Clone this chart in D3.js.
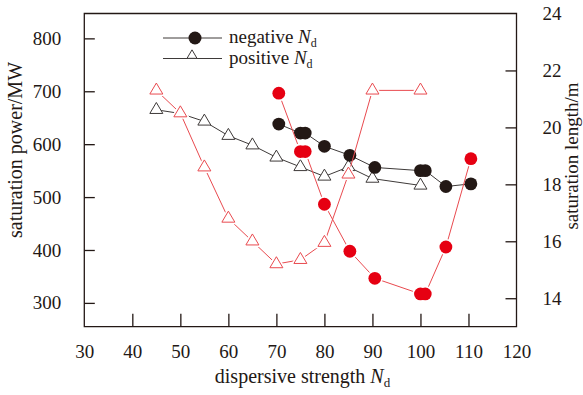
<!DOCTYPE html>
<html>
<head>
<meta charset="utf-8">
<script src="https://cdn.jsdelivr.net/npm/d3@7"></script>
<style>
  body { margin: 0; background: #fff; }
  svg text { font-family: "Liberation Serif", "DejaVu Serif", serif; }
</style>
</head>
<body>
<div id="chart"></div>
<script>
// data
const posNd     = [45, 50, 55, 60, 65, 70, 75, 80, 85, 90, 100];
const posPower  = [665, 658, 643, 616, 598, 575, 557, 539, 557, 535, 522];
const posLength = [21.3, 20.5, 18.6, 16.8, 16.0, 15.2, 15.35, 15.95, 18.35, 21.3, 21.3];

const negNd     = [70.5, 75, 76, 80, 85.3, 90.5, 100, 101, 105.3, 110.5];
const negPower  = [638, 621, 621, 596, 579, 556, 550, 550, 520, 525];
const negLength = [21.2, 19.15, 19.15, 17.3, 15.65, 14.7, 14.15, 14.15, 15.8, 18.9];

const xTicks = [30, 40, 50, 60, 70, 80, 90, 100, 110, 120];
const leftTicks = [300, 400, 500, 600, 700, 800];
const rightTicks = [14, 16, 18, 20, 22, 24];

var W = 583, H = 395;
var margin = {top: 13.5, right: 66.5, bottom: 68.3, left: 84.3};
var width = W - margin.left - margin.right,
    height = H - margin.top - margin.bottom;

var svg = d3.select("#chart").append("svg")
    .attr("width", W).attr("height", H)
  .append("g")
    .attr("transform", "translate(" + margin.left + "," + margin.top + ")");

var x = d3.scaleLinear().domain([30, 120]).range([0, width]);
var yL = d3.scaleLinear().domain([255, 847]).range([height, 0]);
var yR = d3.scaleLinear().domain([13, 24]).range([height, 0]);

// frame
svg.append("path")
  .attr("d", "M0,0H" + width + "V" + height + "H0Z")
  .attr("fill", "none").attr("stroke", "#231815").attr("stroke-width", 1.3);

// axes (ticks point inward)
var gx = svg.append("g")
  .attr("transform", "translate(0," + height + ")")
  .call(d3.axisBottom(x).tickValues(xTicks).tickSizeInner(-13).tickSizeOuter(0).tickPadding(18));
var gl = svg.append("g")
  .call(d3.axisLeft(yL).tickValues(leftTicks).tickSizeInner(-10.5).tickSizeOuter(0).tickPadding(23));
var gr = svg.append("g")
  .attr("transform", "translate(" + width + ",0)")
  .call(d3.axisRight(yR).tickValues(rightTicks).tickSizeInner(-11).tickSizeOuter(0).tickPadding(26));

[gx, gl, gr].forEach(function(g) {
  g.attr("font-family", null).attr("font-size", null);
  g.select(".domain").remove();
  g.selectAll(".tick line").attr("stroke", "#231815").attr("stroke-width", 1.3);
  g.selectAll(".tick text").attr("font-size", 19).attr("fill", "#231815");
});
gx.selectAll(".tick").filter(function(d) { return d == 30 || d == 120; }).select("line").remove();
gr.selectAll(".tick").filter(function(d) { return d == 24; }).select("line").remove();

// axis titles
var xt = svg.append("text")
  .attr("x", 302.5 - margin.left).attr("y", 383 - margin.top)
  .attr("text-anchor", "middle").attr("font-size", 20).attr("fill", "#231815");
xt.append("tspan").text("dispersive strength ");
xt.append("tspan").attr("font-style", "italic").text("N");
xt.append("tspan").attr("font-size", 13).attr("dy", 4).text("d");

svg.append("text")
  .attr("transform", "translate(" + (22 - margin.left) + "," + (150 - margin.top) + ")rotate(-90)")
  .attr("text-anchor", "middle").attr("font-size", 20).attr("fill", "#231815")
  .text("saturation power/MW");

svg.append("text")
  .attr("transform", "translate(" + (578 - margin.left) + "," + (156 - margin.top) + ")rotate(-90)")
  .attr("text-anchor", "middle").attr("font-size", 19).attr("fill", "#231815")
  .text("saturation length/m");

function tri(w, h) {
  return "M0," + (-h * 2 / 3) + "L" + (w / 2) + "," + (h / 3) + "L" + (-w / 2) + "," + (h / 3) + "Z";
}

var posP = posNd.map(function(d, i) { return {x: d, y: posPower[i]}; });
var posL = posNd.map(function(d, i) { return {x: d, y: posLength[i]}; });
var negP = negNd.map(function(d, i) { return {x: d, y: negPower[i]}; });
var negL = negNd.map(function(d, i) { return {x: d, y: negLength[i]}; });

function line(yScale) {
  return d3.line().x(function(d) { return x(d.x); }).y(function(d) { return yScale(d.y); });
}

// power series (black)
svg.append("path").datum(posP).attr("d", line(yL))
  .attr("fill", "none").attr("stroke", "#3e3a39").attr("stroke-width", 1);
svg.append("path").datum(negP).attr("d", line(yL))
  .attr("fill", "none").attr("stroke", "#3e3a39").attr("stroke-width", 1);
svg.selectAll(".bt").data(posP).enter().append("path")
  .attr("transform", function(d) { return "translate(" + x(d.x) + "," + yL(d.y) + ")"; })
  .attr("d", tri(13, 11)).attr("fill", "#fff").attr("stroke", "#3e3a39").attr("stroke-width", 1);
svg.selectAll(".bc").data(negP).enter().append("circle")
  .attr("cx", function(d) { return x(d.x); }).attr("cy", function(d) { return yL(d.y); })
  .attr("r", 6.4).attr("fill", "#231815");

// length series (red)
svg.append("path").datum(posL).attr("d", line(yR))
  .attr("fill", "none").attr("stroke", "#e94a4f").attr("stroke-width", 1);
svg.append("path").datum(negL).attr("d", line(yR))
  .attr("fill", "none").attr("stroke", "#e94a4f").attr("stroke-width", 1);
// white halo gaps
svg.selectAll(".rth").data(posL).enter().append("path")
  .attr("transform", function(d) { return "translate(" + x(d.x) + "," + yR(d.y) + ")"; })
  .attr("d", tri(13, 11)).attr("fill", "#fff").attr("stroke", "#fff").attr("stroke-width", 4);
svg.selectAll(".rch").data(negL).enter().append("circle")
  .attr("cx", function(d) { return x(d.x); }).attr("cy", function(d) { return yR(d.y); })
  .attr("r", 8).attr("fill", "#fff");
svg.selectAll(".rt").data(posL).enter().append("path")
  .attr("transform", function(d) { return "translate(" + x(d.x) + "," + yR(d.y) + ")"; })
  .attr("d", tri(13, 11)).attr("fill", "#fff").attr("stroke", "#e94a4f").attr("stroke-width", 1);
svg.selectAll(".rc").data(negL).enter().append("circle")
  .attr("cx", function(d) { return x(d.x); }).attr("cy", function(d) { return yR(d.y); })
  .attr("r", 6.4).attr("fill", "#e60012");

// legend
var leg = svg.append("g").attr("transform", "translate(" + (-margin.left) + "," + (-margin.top) + ")");
leg.append("line").attr("x1", 163).attr("x2", 222).attr("y1", 38).attr("y2", 38)
  .attr("stroke", "#3e3a39").attr("stroke-width", 1);
leg.append("circle").attr("cx", 195).attr("cy", 38).attr("r", 6.5).attr("fill", "#231815");
leg.append("line").attr("x1", 163).attr("x2", 222).attr("y1", 58.5).attr("y2", 58.5)
  .attr("stroke", "#3e3a39").attr("stroke-width", 1);
leg.append("path").attr("transform", "translate(192,55.5)").attr("d", tri(10, 8.5))
  .attr("fill", "#fff").attr("stroke", "#3e3a39").attr("stroke-width", 1);
[["negative ", 43], ["positive ", 64]].forEach(function(e) {
  var t = leg.append("text").attr("x", 229).attr("y", e[1]).attr("font-size", 19).attr("fill", "#231815");
  t.append("tspan").text(e[0]);
  t.append("tspan").attr("font-style", "italic").text("N");
  t.append("tspan").attr("font-size", 12).attr("dy", 4).text("d");
});
</script>
</body>
</html>
